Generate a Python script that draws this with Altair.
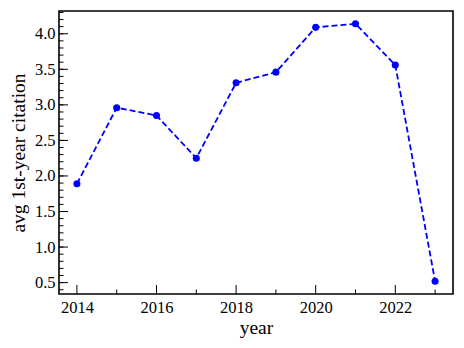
import altair as alt
import pandas as pd

years = [2014, 2015, 2016, 2017, 2018, 2019, 2020, 2021, 2022, 2023]
values = [1.89, 2.96, 2.85, 2.25, 3.31, 3.46, 4.09, 4.14, 3.56, 0.52]

x_major = [2014, 2016, 2018, 2020, 2022]
x_minor = [2015, 2017, 2019, 2021, 2023]
y_major = [0.5, 1.0, 1.5, 2.0, 2.5, 3.0, 3.5, 4.0]
y_minor = [round(0.4 + 0.1 * i, 1) for i in range(40)]

XDOM = [2013.55, 2023.45]
YDOM = [0.34, 4.32]
FONT = "Liberation Serif"

df = pd.DataFrame({"year": years, "val": values})
xs = alt.Scale(domain=XDOM, nice=False, zero=False)
ys = alt.Scale(domain=YDOM, nice=False, zero=False)

line = alt.Chart(df).mark_line(
    color="#0000ff", strokeDash=[6, 3], strokeWidth=1.8
).encode(
    x=alt.X("year:Q", scale=xs, title="year",
            axis=alt.Axis(values=x_major, format="d", tickSize=0, domain=False,
                          grid=False, labelFont=FONT, labelFontSize=16.5,
                          labelColor="black", labelPadding=5,
                          titleFont=FONT, titleFontSize=19.5, titleFontWeight="normal",
                          titleColor="black", titlePadding=3)),
    y=alt.Y("val:Q", scale=ys, title="avg 1st-year citation",
            axis=alt.Axis(values=y_major, format=".1f", tickSize=0, domain=False,
                          grid=False, labelFont=FONT, labelFontSize=16.5,
                          labelColor="black", labelPadding=4,
                          titleFont=FONT, titleFontSize=19.5, titleFontWeight="normal",
                          titleColor="black", titlePadding=6)),
)
pts = alt.Chart(df).mark_circle(color="#0000ff", size=50, opacity=1).encode(
    x=alt.X("year:Q", scale=xs), y=alt.Y("val:Q", scale=ys)
)

def xt(vals, length):
    d = pd.DataFrame({"year": vals})
    return alt.Chart(d).mark_rule(color="black", strokeWidth=1).encode(
        x=alt.X("year:Q", scale=xs),
        y=alt.value(283), y2=alt.value(283 - length))

def yt(vals, length):
    d = pd.DataFrame({"val": vals})
    return alt.Chart(d).mark_rule(color="black", strokeWidth=1).encode(
        y=alt.Y("val:Q", scale=ys),
        x=alt.value(0), x2=alt.value(length))

chart = alt.layer(
    xt(x_major, 9), xt(x_minor, 4.5), yt(y_major, 9), yt(y_minor, 4.5), line, pts
).properties(
    width=394, height=283,
    autosize=alt.AutoSizeParams(type="none"),
    padding={"left": 51, "top": 3, "right": 3, "bottom": 50},
).configure(
    font=FONT
).configure_axis(
    labelFont=FONT, titleFont=FONT
).configure_view(
    stroke="black", strokeWidth=1.6
)

chart.save("out.html", embed_options={"renderer": "svg", "actions": False})
